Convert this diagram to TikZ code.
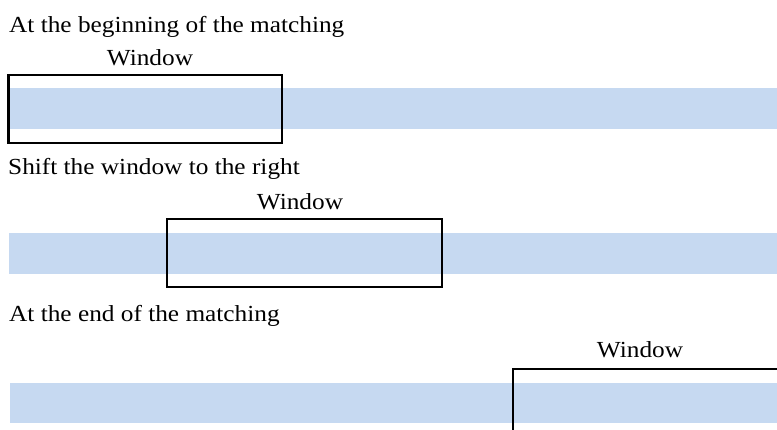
\documentclass[tikz,border=0pt]{standalone}
\usepackage{fontspec}
\setmainfont{Liberation Serif}
\newfontfamily\wfont[FakeStretch=1.1]{Liberation Serif}
\definecolor{bandblue}{HTML}{C6D9F1}
\tikzset{
  lbl/.style={inner sep=0pt, font=\wfont\fontsize{23}{27}\selectfont},
  band/.style={fill=bandblue, draw=none},
  winbox/.style={draw=black, line width=2.8pt}
}
\begin{document}
\begin{tikzpicture}[x=1pt,y=-1pt]
\useasboundingbox (0,0) rectangle (777,430);
% row 1
\node[lbl, anchor=base west] (t1) at (9,32.5) {At the beginning of the matching};
\node[lbl, anchor=base] (w1) at (150,66) {Window};
\fill[band] (10,88) rectangle (777,129);
\draw[winbox] (8.5,75) rectangle (282,143);
% row 2
\node[lbl, anchor=base west] (t2) at (8,175) {Shift the window to the right};
\node[lbl, anchor=base] (w2) at (300,210) {Window};
\fill[band] (9,233) rectangle (777,274);
\draw[winbox] (167,219) rectangle (442,287);
% row 3
\node[lbl, anchor=base west] (t3) at (9,322) {At the end of the matching};
\node[lbl, anchor=base] (w3) at (640,358) {Window};
\fill[band] (10,383) rectangle (777,423);
\draw[winbox] (780,369) -- (513,369) -- (513,433);
\end{tikzpicture}
\end{document}
